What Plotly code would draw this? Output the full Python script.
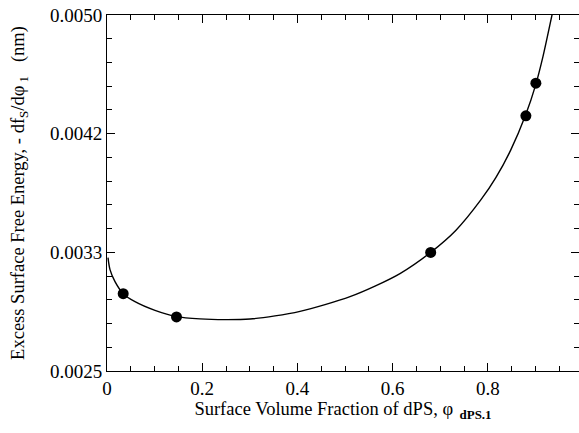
import plotly.graph_objects as go

# Measured excess surface free energy vs. surface volume fraction of dPS
data_phi = [0.034, 0.146, 0.680, 0.880, 0.901]
data_energy = [0.003043, 0.002880, 0.003333, 0.004292, 0.004521]

# Smooth fitted curve through the measurements
curve_phi = [0.0021, 0.0063, 0.0168, 0.0342, 0.0588, 0.1008, 0.1464, 0.1954,
             0.2479, 0.3004, 0.3529, 0.4055, 0.4580, 0.5105, 0.5630, 0.6155,
             0.6800, 0.7332, 0.7857, 0.8172, 0.8481, 0.8796, 0.9006, 0.9160,
             0.9328, 0.9433]
curve_energy = [0.003296, 0.003212, 0.003128, 0.003043, 0.002987, 0.002926,
                0.002882, 0.002866, 0.002861, 0.002865, 0.002887, 0.002919,
                0.002966, 0.003022, 0.003096, 0.003184, 0.003333, 0.003489,
                0.003703, 0.003860, 0.004051, 0.004299, 0.004509, 0.004709,
                0.004967, 0.005133]

# Axis ticks
xtick_vals = [0, 0.2, 0.4, 0.6, 0.8]
xtick_text = ["0", "0.2", "0.4", "0.6", "0.8"]
ytick_vals = [0.0025, 0.0033333, 0.0041667, 0.0050]
ytick_text = ["0.0025", "0.0033", "0.0042", "0.0050"]

X_RANGE = [0, 0.9916]
Y_RANGE = [0.0025, 0.0050]
FONT = "Liberation Serif, Times New Roman, serif"

fig = go.Figure()
fig.add_trace(go.Scatter(
    x=curve_phi, y=curve_energy, mode="lines",
    line=dict(color="black", width=1.4, shape="spline", smoothing=0.8),
    showlegend=False, hoverinfo="skip",
))
fig.add_trace(go.Scatter(
    x=data_phi, y=data_energy, mode="markers",
    marker=dict(color="black", size=11),
    showlegend=False,
))
# Empty trace that carries the right-hand tick axis
fig.add_trace(go.Scatter(x=[None], y=[None], yaxis="y2", showlegend=False,
                         hoverinfo="skip"))

fig.update_layout(
    width=579, height=433,
    margin=dict(l=107, r=0, t=15, b=62),
    paper_bgcolor="white", plot_bgcolor="white",
    font=dict(family=FONT, size=19, color="black"),
    xaxis=dict(
        range=X_RANGE, showgrid=False, zeroline=False,
        showline=True, linecolor="black", linewidth=1, mirror="ticks",
        tickvals=xtick_vals, ticktext=xtick_text,
        ticks="inside", ticklen=8, tickcolor="black",
        minor=dict(dtick=0.05, tick0=0, ticks="inside", ticklen=5,
                   tickcolor="black", showgrid=False),
        title=dict(text="Surface Volume Fraction of dPS, φ<sub>  <b>dPS.1</b></sub>",
                   font=dict(size=18.5), standoff=2),
    ),
    yaxis=dict(
        range=Y_RANGE, showgrid=False, zeroline=False,
        showline=True, linecolor="black", linewidth=1, mirror=False,
        tickvals=ytick_vals, ticktext=ytick_text,
        ticks="inside", ticklen=8, tickcolor="black",
        minor=dict(dtick=0.0025 / 15, tick0=0.0025, ticks="inside", ticklen=5,
                   tickcolor="black", showgrid=False),
        title=dict(text="Excess Surface Free Energy, - df<sub>S</sub>/dφ<sub> 1</sub>   (nm)",
                   font=dict(size=18.5), standoff=20),
    ),
    yaxis2=dict(
        range=Y_RANGE, overlaying="y", side="right", showgrid=False,
        zeroline=False, showline=False, showticklabels=False,
        tickvals=ytick_vals, ticks="inside", ticklen=8, tickcolor="black",
        minor=dict(dtick=0.0025 / 15, tick0=0.0025, ticks="inside", ticklen=5,
                   tickcolor="black", showgrid=False),
    ),
)

fig.write_html("out.html")
